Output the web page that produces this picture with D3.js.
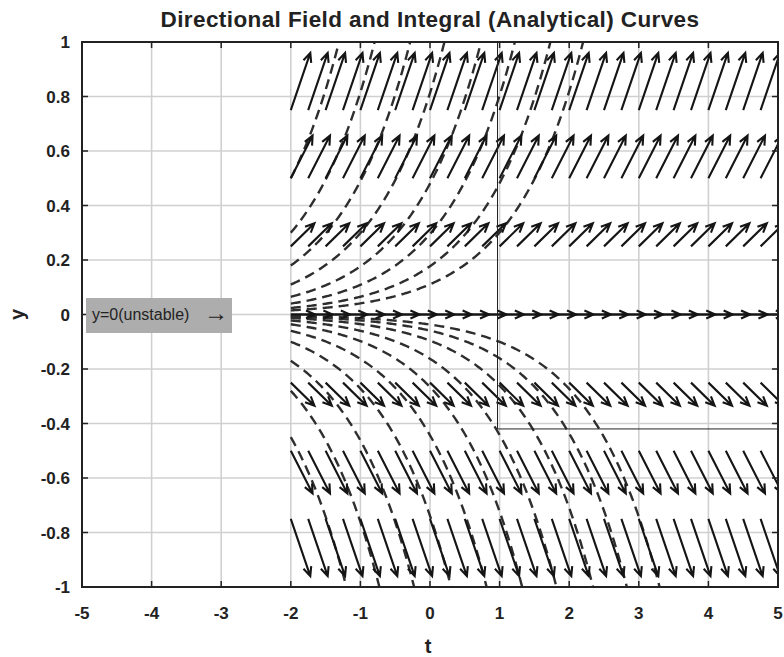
<!DOCTYPE html>
<html lang="en">
<head>
<meta charset="utf-8">
<title>Directional Field</title>
<script src="https://d3js.org/d3.v7.min.js"></script>
<style>
  body { margin: 0; background: #fff; }
  text { font-family: "Liberation Sans", Arial, sans-serif; }
</style>
</head>
<body>
<script>
// axis ticks
var tTicks = [-5, -4, -3, -2, -1, 0, 1, 2, 3, 4, 5];
var yTicks = [-1, -0.8, -0.6, -0.4, -0.2, 0, 0.2, 0.4, 0.6, 0.8, 1];
var yTickLabels = ["-1", "-0.8", "-0.6", "-0.4", "-0.2", "0", "0.2", "0.4", "0.6", "0.8", "1"];

// quiver grid: columns (t) and rows (tail y) with slope dy/dt read per row
var arrowCols = [-2, -1.75, -1.5, -1.25, -1, -0.75, -0.5, -0.25, 0, 0.25, 0.5, 0.75, 1,
  1.25, 1.5, 1.75, 2, 2.25, 2.5, 2.75, 3, 3.25, 3.5, 3.75, 4, 4.25, 4.5, 4.75, 5];
var arrowRows = [-0.75, -0.5, -0.25, 0, 0.25, 0.5, 0.75];
var arrowSlopes = [-0.75, -0.5, -0.25, 0, 0.25, 0.5, 0.75];
var arrowLen = 0.35; // data units

// integral curves y = C*exp(t+2): value at t=-2 for each dashed curve
var curveStartUpper = [0.5, 0.3, 0.18, 0.11, 0.065, 0.04, 0.024, 0.015];
var curveStartLower = [-0.45, -0.28, -0.17, -0.1, -0.06, -0.036, -0.022, -0.013, -0.008, -0.005];
var tStart = -2, tEnd = 5;

var w = 784, h = 657;
var x = d3.scaleLinear().domain([-5, 5]).range([82, 778]);
var y = d3.scaleLinear().domain([-1, 1]).range([587, 42]);

var svg = d3.select("body").append("svg").attr("width", w).attr("height", h);

svg.append("defs").append("clipPath").attr("id", "clip")
  .append("rect").attr("x", 82).attr("y", 42).attr("width", 696).attr("height", 545);

// grid
var grid = svg.append("g");
grid.selectAll(".gx").data(tTicks).enter().append("line")
  .attr("x1", d => x(d)).attr("x2", d => x(d)).attr("y1", 42).attr("y2", 587)
  .attr("stroke", "#d0d0d0").attr("stroke-width", 1.6);
grid.selectAll(".gy").data(yTicks).enter().append("line")
  .attr("x1", 82).attr("x2", 778).attr("y1", d => y(d)).attr("y2", d => y(d))
  .attr("stroke", "#d0d0d0").attr("stroke-width", 1.6);

var plot = svg.append("g").attr("clip-path", "url(#clip)");

// equilibrium y=0
plot.append("line").attr("x1", x(tStart)).attr("x2", x(tEnd)).attr("y1", y(0)).attr("y2", y(0))
  .attr("stroke", "#111").attr("stroke-width", 2.2);

// dashed integral curves
var tSamples = d3.range(tStart, tEnd + 0.001, 0.02);
var line = d3.line().x(d => x(d[0])).y(d => y(d[1]));
curveStartUpper.concat(curveStartLower).forEach(function (c) {
  var pts = [];
  for (var i = 0; i < tSamples.length; i++) {
    var v = c * Math.exp(tSamples[i] - tStart);
    pts.push([tSamples[i], v]);
    if (Math.abs(v) > 1.05) break;
  }
  plot.append("path").attr("d", line(pts)).attr("fill", "none")
    .attr("stroke", "#2e2e2e").attr("stroke-width", 2.4).attr("stroke-dasharray", "10,6");
});

// arrows
var arrows = [];
arrowRows.forEach(function (ry, ri) {
  var s = arrowSlopes[ri];
  var dt = arrowLen / Math.sqrt(1 + s * s);
  arrowCols.forEach(function (ct) {
    arrows.push({ t0: ct, y0: ry, t1: ct + dt, y1: ry + s * dt });
  });
});
var ag = plot.append("g").attr("stroke", "#151515").attr("stroke-width", 2.1)
  .attr("fill", "none").attr("stroke-linejoin", "miter");
arrows.forEach(function (a) {
  var px0 = x(a.t0), py0 = y(a.y0), px1 = x(a.t1), py1 = y(a.y1);
  var ang = Math.atan2(py1 - py0, px1 - px0);
  var hl = 10, ha = 0.42;
  var hx1 = px1 - hl * Math.cos(ang - ha), hy1 = py1 - hl * Math.sin(ang - ha);
  var hx2 = px1 - hl * Math.cos(ang + ha), hy2 = py1 - hl * Math.sin(ang + ha);
  ag.append("path").attr("d", "M" + px0 + "," + py0 + "L" + px1 + "," + py1 +
    "M" + hx1 + "," + hy1 + "L" + px1 + "," + py1 + "L" + hx2 + "," + hy2);
});

// thin box
svg.append("path")
  .attr("d", "M" + x(0.97) + "," + y(1) + "L" + x(0.97) + "," + y(-0.42) + "L" + x(5) + "," + y(-0.42))
  .attr("fill", "none").attr("stroke", "#222").attr("stroke-width", 1);

// frame and ticks
svg.append("rect").attr("x", 82).attr("y", 42).attr("width", 696).attr("height", 545)
  .attr("fill", "none").attr("stroke", "#222").attr("stroke-width", 2);
var tk = svg.append("g").attr("stroke", "#222").attr("stroke-width", 1.5);
tTicks.forEach(function (t) {
  tk.append("line").attr("x1", x(t)).attr("x2", x(t)).attr("y1", 587).attr("y2", 581);
  tk.append("line").attr("x1", x(t)).attr("x2", x(t)).attr("y1", 42).attr("y2", 48);
});
yTicks.forEach(function (v) {
  tk.append("line").attr("x1", 82).attr("x2", 88).attr("y1", y(v)).attr("y2", y(v));
  tk.append("line").attr("x1", 778).attr("x2", 772).attr("y1", y(v)).attr("y2", y(v));
});

// tick labels
svg.selectAll(".xl").data(tTicks).enter().append("text")
  .attr("x", d => x(d)).attr("y", 619).attr("text-anchor", "middle")
  .attr("font-size", 17).attr("font-weight", "bold").attr("fill", "#222").text(d => d);
svg.selectAll(".yl").data(yTicks).enter().append("text")
  .attr("x", 70).attr("y", d => y(d) + 6).attr("text-anchor", "end")
  .attr("font-size", 17).attr("font-weight", "bold").attr("fill", "#222")
  .text((d, i) => yTickLabels[i]);

// labels
svg.append("text").attr("x", 430).attr("y", 27).attr("text-anchor", "middle")
  .attr("font-size", 22.5).attr("font-weight", "bold").attr("letter-spacing", 0.4)
  .attr("fill", "#222")
  .text("Directional Field and Integral (Analytical) Curves");
svg.append("text").attr("x", 428).attr("y", 653).attr("text-anchor", "middle")
  .attr("font-size", 20).attr("font-weight", "bold").attr("fill", "#222").text("t");
svg.append("text").attr("transform", "translate(24," + y(0) + ") rotate(-90)")
  .attr("text-anchor", "middle").attr("font-size", 20).attr("font-weight", "bold")
  .attr("fill", "#222").text("y");

// annotation
svg.append("rect").attr("x", 86).attr("y", 298).attr("width", 146).attr("height", 35)
  .attr("fill", "#adadad");
svg.append("text").attr("x", 92).attr("y", y(0) + 5).attr("font-size", 16)
  .attr("fill", "#222").text("y=0(unstable)");
svg.append("text").attr("x", 204).attr("y", y(0) + 6).attr("font-size", 24)
  .attr("fill", "#222").text("\u2192");
</script>
</body>
</html>
